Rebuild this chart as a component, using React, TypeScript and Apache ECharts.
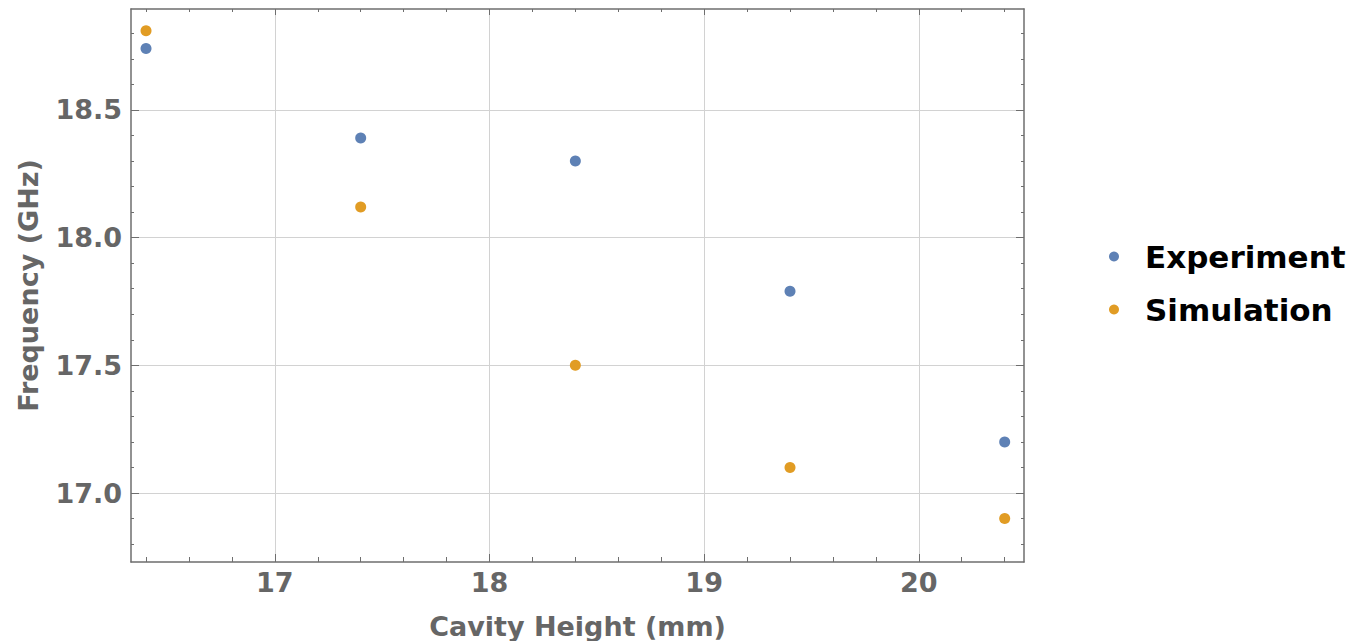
import React, { useEffect, useRef } from "react";
import * as echarts from "echarts";

// Cavity height (mm) at which each frequency was taken
const cavityHeights = [16.4, 17.4, 18.4, 19.4, 20.4];
// Resonant frequency (GHz)
const experiment = [18.74, 18.39, 18.3, 17.79, 17.2];
const simulation = [18.81, 18.12, 17.5, 17.1, 16.9];

// Axis ticks
const xMajorTicks = [17, 18, 19, 20];
const xMinorTicks = [16.4, 16.6, 16.8, 17.2, 17.4, 17.6, 17.8, 18.2, 18.4, 18.6, 18.8, 19.2, 19.4, 19.6, 19.8, 20.2, 20.4];
const yMajorTicks = [17.0, 17.5, 18.0, 18.5];
const yMinorTicks = [16.8, 16.9, 17.1, 17.2, 17.3, 17.4, 17.6, 17.7, 17.8, 17.9, 18.1, 18.2, 18.3, 18.4, 18.6, 18.7, 18.8];

const X_MIN = 16.33;
const X_MAX = 20.49;
const Y_MIN = 16.73;
const Y_MAX = 18.895;

const FONT = "DejaVu Sans";
const GREY = "#666666";
const FRAME = { show: true, lineStyle: { color: "#6e6e6e", width: 1.5 } };

function tickAxis(position: string, values: number[], length: number, withLine: boolean, isX: boolean) {
  return {
    type: "value",
    position,
    min: isX ? X_MIN : Y_MIN,
    max: isX ? X_MAX : Y_MAX,
    axisLine: withLine ? FRAME : { show: false },
    axisTick: { show: true, inside: true, length, customValues: values, lineStyle: { color: "#6e6e6e", width: 1 } },
    axisLabel: { show: false },
    splitLine: { show: false },
  };
}

export default function App() {
  const ref = useRef<HTMLDivElement>(null);

  useEffect(() => {
    if (!ref.current) return;
    const chart = echarts.init(ref.current, null, { renderer: "svg" });
    const expData = cavityHeights.map((h, i) => [h, experiment[i]]);
    const simData = cavityHeights.map((h, i) => [h, simulation[i]]);

    chart.setOption({
      animation: false,
      grid: { left: 131, right: 331, top: 9, bottom: 79, containLabel: false, outerBoundsMode: "none" },
      legend: {
        orient: "vertical",
        left: 1104,
        top: 236,
        icon: "circle",
        itemWidth: 10,
        itemHeight: 10,
        itemGap: 22,
        textStyle: { fontFamily: FONT, fontWeight: "bold", fontSize: 31, color: "#000", padding: [0, 0, 0, 21] },
        data: ["Experiment", "Simulation"],
      },
      xAxis: [
        {
          type: "value",
          position: "bottom",
          min: X_MIN,
          max: X_MAX,
          name: "Cavity Height (mm)",
          nameLocation: "middle",
          nameGap: 51,
          nameTextStyle: { fontFamily: FONT, fontWeight: "bold", fontSize: 27, color: GREY },
          axisLine: FRAME,
          axisTick: { show: true, inside: true, length: 8, customValues: xMajorTicks, lineStyle: { color: "#6e6e6e", width: 1 } },
          axisLabel: {
            customValues: xMajorTicks,
            margin: 7,
            fontFamily: FONT,
            fontWeight: "bold",
            fontSize: 27,
            color: GREY,
            formatter: (v: number) => String(v),
          },
          splitLine: { show: true, lineStyle: { color: "#d2d2d2", width: 1 } },
        },
        tickAxis("bottom", xMinorTicks, 5, false, true),
        tickAxis("top", xMajorTicks, 6, true, true),
        tickAxis("top", xMinorTicks, 3, false, true),
      ],
      yAxis: [
        {
          type: "value",
          position: "left",
          min: Y_MIN,
          max: Y_MAX,
          name: "Frequency (GHz)",
          nameLocation: "middle",
          nameRotate: 90,
          nameGap: 89,
          nameTextStyle: { fontFamily: FONT, fontWeight: "bold", fontSize: 27, color: GREY },
          axisLine: FRAME,
          axisTick: { show: true, inside: true, length: 8, customValues: yMajorTicks, lineStyle: { color: "#6e6e6e", width: 1 } },
          axisLabel: {
            customValues: yMajorTicks,
            margin: 9,
            fontFamily: FONT,
            fontWeight: "bold",
            fontSize: 27,
            color: GREY,
            formatter: (v: number) => v.toFixed(1),
          },
          splitLine: { show: true, lineStyle: { color: "#d2d2d2", width: 1 } },
        },
        tickAxis("left", yMinorTicks, 3, false, false),
        tickAxis("right", yMajorTicks, 8, true, false),
        tickAxis("right", yMinorTicks, 3, false, false),
      ],
      series: [
        {
          name: "Experiment",
          type: "scatter",
          xAxisIndex: 0,
          yAxisIndex: 0,
          data: expData,
          symbol: "circle",
          symbolSize: 11,
          itemStyle: { color: "#5e81b5", opacity: 1 },
        },
        {
          name: "Simulation",
          type: "scatter",
          xAxisIndex: 0,
          yAxisIndex: 0,
          data: simData,
          symbol: "circle",
          symbolSize: 11,
          itemStyle: { color: "#e19c24", opacity: 1 },
        },
      ],
    });

    return () => chart.dispose();
  }, []);

  return <div ref={ref} style={{ width: 1355, height: 641, position: "absolute", left: 0, top: 0 }} />;
}
